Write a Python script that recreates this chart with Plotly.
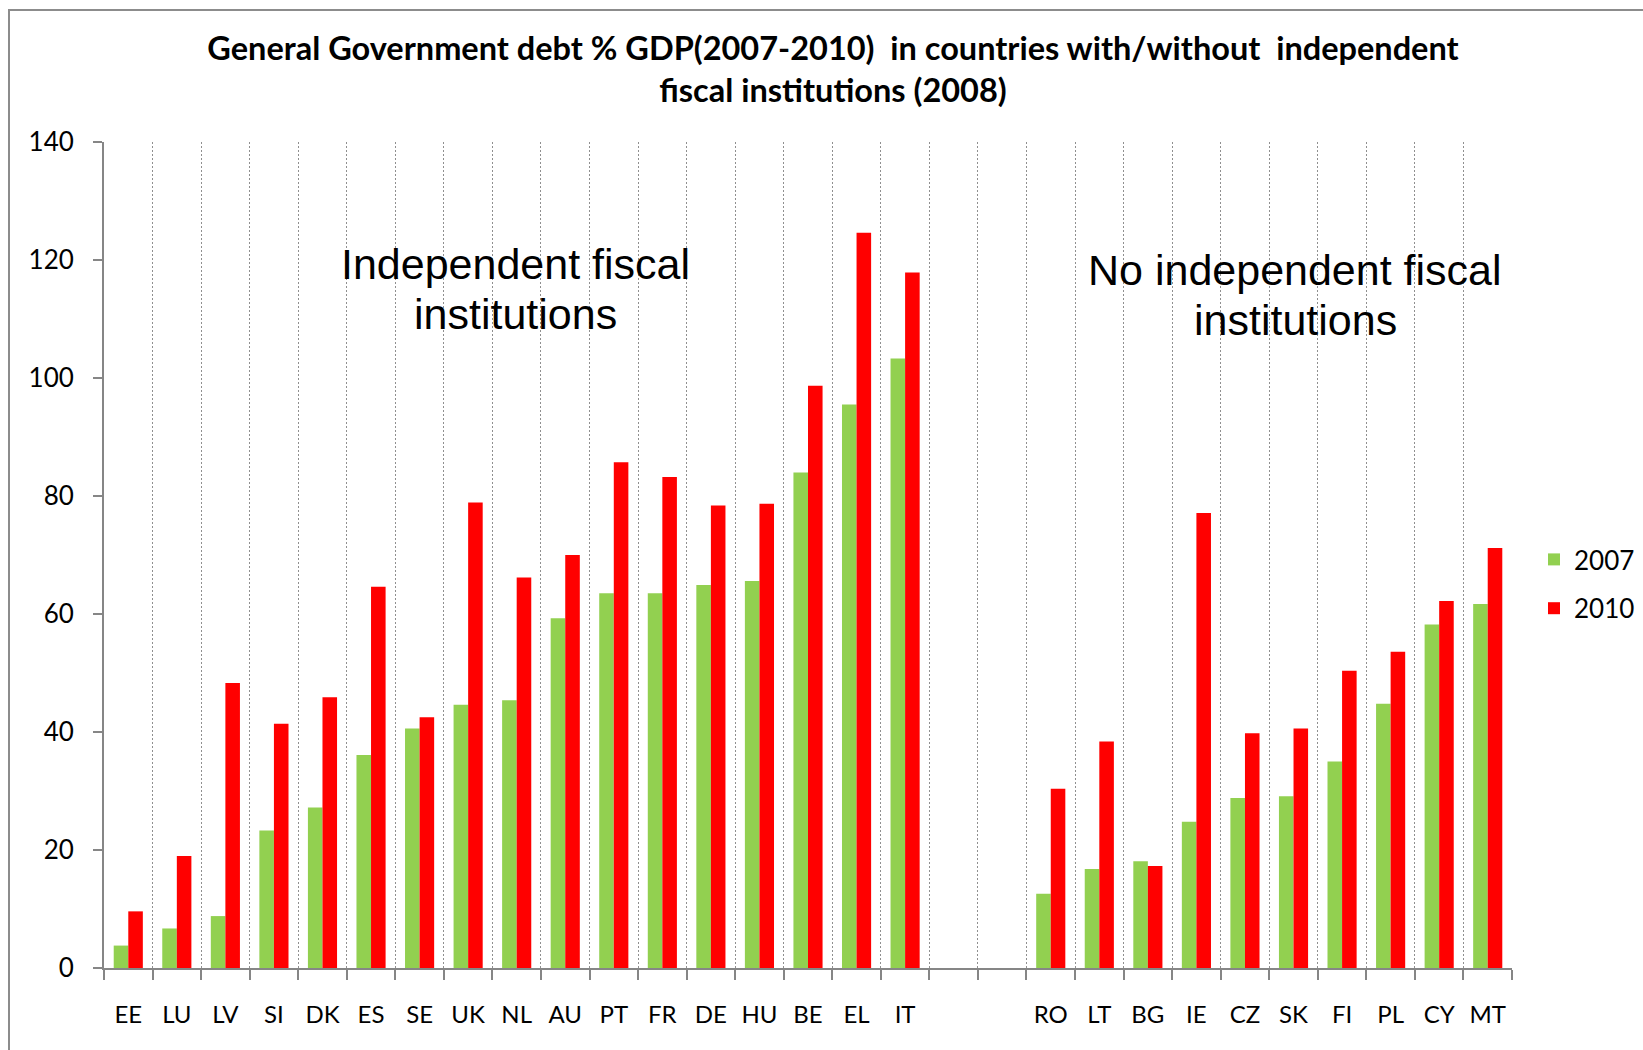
import plotly.graph_objects as go

# Countries grouped by whether they had an independent fiscal institution in 2008
countries_with = ["EE", "LU", "LV", "SI", "DK", "ES", "SE", "UK", "NL", "AU",
                  "PT", "FR", "DE", "HU", "BE", "EL", "IT"]
debt_2007_with = [3.8, 6.7, 8.8, 23.3, 27.2, 36.1, 40.6, 44.6, 45.4, 59.3,
                  63.5, 63.5, 64.9, 65.6, 84.0, 95.5, 103.3]
debt_2010_with = [9.6, 19.0, 48.3, 41.4, 45.9, 64.6, 42.5, 78.9, 66.2, 70.0,
                  85.7, 83.2, 78.4, 78.7, 98.7, 124.6, 117.9]

countries_without = ["RO", "LT", "BG", "IE", "CZ", "SK", "FI", "PL", "CY", "MT"]
debt_2007_without = [12.6, 16.8, 18.1, 24.8, 28.8, 29.1, 35.0, 44.8, 58.2, 61.7]
debt_2010_without = [30.4, 38.4, 17.3, 77.1, 39.8, 40.6, 50.4, 53.6, 62.2, 71.2]

# two empty slots separate the groups on the category axis
spacer = [" ", "  "]
categories = countries_with + spacer + countries_without
series_2007 = debt_2007_with + [None, None] + debt_2007_without
series_2010 = debt_2010_with + [None, None] + debt_2010_without

y_ticks = [0, 20, 40, 60, 80, 100, 120, 140]

GREEN = "#92D050"
RED = "#FF0000"
AXIS = "#868686"
FONT = "Lato"

W, H = 1643, 1050
L, R, T, B = 104, 131, 142, 82
plot_w = W - L - R
plot_h = H - T - B


def px_x(px):
    return (px - L) / plot_w


def px_y(py):
    return (H - B - py) / plot_h


fig = go.Figure()
fig.add_trace(go.Bar(x=categories, y=series_2007, name="2007",
                     marker=dict(color=GREEN, line=dict(width=0)),
                     legendgroup="a"))
fig.add_trace(go.Bar(x=categories, y=series_2010, name="2010",
                     marker=dict(color=RED, line=dict(width=0)),
                     legendgroup="b"))

fig.update_layout(
    width=W, height=H,
    margin=dict(l=L, r=R, t=T, b=B, autoexpand=False),
    paper_bgcolor="white", plot_bgcolor="white",
    barmode="group", bargap=0.4, bargroupgap=0,
    font=dict(family=FONT, color="black"),
    title=dict(
        text="<b>General Government debt % GDP(2007-2010) \u00a0in countries with/without \u00a0independent"
             "<br>fiscal institutions (2008)</b>",
        x=833 / W, xref="container", xanchor="center",
        y=1 - 60 / H, yref="container", yanchor="middle",
        font=dict(family=FONT, size=32.5, color="black"),
    ),
    showlegend=True,
    legend=dict(x=px_x(1534), xanchor="left", y=px_y(536), yanchor="top",
                font=dict(family=FONT, size=26, color="black"),
                tracegroupgap=12, bgcolor="rgba(0,0,0,0)"),
    xaxis=dict(
        type="category", categoryorder="array", categoryarray=categories,
        tickson="boundaries", ticks="outside", ticklen=10, tickwidth=1.5,
        tickcolor=AXIS, showline=True, linecolor=AXIS, linewidth=2,
        showgrid=True, gridcolor="#8f8f8f", gridwidth=1, griddash="2px,2px",
        tickfont=dict(family=FONT, size=24, color="black"),
        ticklabelstandoff=24, range=[-0.5, len(categories) - 0.5],
        fixedrange=True,
    ),
    yaxis=dict(
        range=[0, 140], tickvals=y_ticks, ticks="outside", ticklen=9,
        tickwidth=1.5, tickcolor=AXIS, showline=True, linecolor=AXIS,
        linewidth=2, showgrid=False, zeroline=False,
        tickfont=dict(family=FONT, size=26, color="black"),
        ticklabelstandoff=14, fixedrange=True,
    ),
)

# Group labels drawn inside the plot area
group_labels = [
    ("Independent fiscal", 515, 264),
    ("institutions", 515, 314),
    ("No independent fiscal", 1295, 270),
    ("institutions", 1295, 320),
]
for text, cx, cy in group_labels:
    fig.add_annotation(text=text, x=px_x(cx), y=px_y(cy), xref="paper", yref="paper",
                       xanchor="center", yanchor="middle", showarrow=False,
                       font=dict(family="Liberation Sans", size=43, color="black"))

# Chart frame
fig.add_shape(type="rect", xref="paper", yref="paper",
              x0=px_x(9), x1=px_x(1700), y0=px_y(1100), y1=px_y(10),
              line=dict(color="#8c8c8c", width=2), layer="below")

fig.write_html("out.html")
